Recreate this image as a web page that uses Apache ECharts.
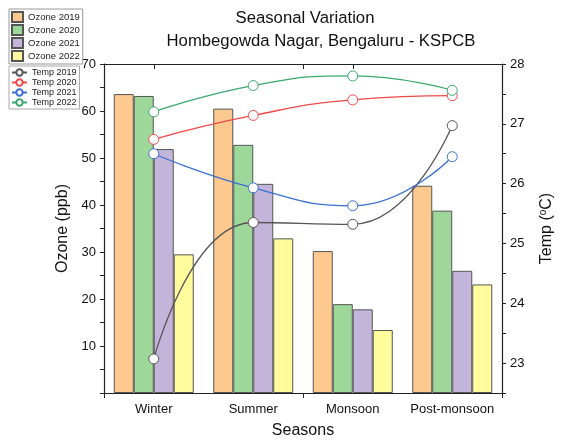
<!DOCTYPE html>
<html><head><meta charset="utf-8">
<script src="https://cdn.jsdelivr.net/npm/echarts@6/dist/echarts.min.js"></script>
<style>html,body{margin:0;padding:0;background:#fff}#c{width:563px;height:444px}</style>
</head><body><div id="c"></div>
<script>
const seasons = ['Winter', 'Summer', 'Monsoon', 'Post-monsoon'];
const ozone2019 = [63.6, 60.5, 30.2, 44.1];
const ozone2020 = [63.2, 52.8, 18.9, 38.8];
const ozone2021 = [51.9, 44.5, 17.8, 26.0];
const ozone2022 = [29.5, 32.9, 13.4, 23.1];
const temp2019 = [23.07, 25.35, 25.32, 26.97];
const temp2020 = [26.74, 27.14, 27.40, 27.47];
const temp2021 = [26.50, 25.93, 25.63, 26.45];
const temp2022 = [27.20, 27.64, 27.80, 27.56];

const font = 'Liberation Sans, Arial, sans-serif';
const barColors = ['#fdc98f', '#9dd79a', '#c3b4d9', '#fffc9e'];
const lineColors = ['#555555', '#ee4a4a', '#3a6fd2', '#3aa86c'];

const chart = echarts.init(document.getElementById('c'));
const bar = (name, data, i) => ({
  name, type: 'bar', data, xAxisIndex: 0, yAxisIndex: 0,
  barWidth: 20, barGap: '0%', z: 2,
  itemStyle: { color: barColors[i], borderColor: '#555', borderWidth: 1 }
});
const line = (name, data, i) => ({
  name, type: 'line', data, xAxisIndex: 0, yAxisIndex: 1, smooth: 0.5, z: 5,
  symbol: 'circle', symbolSize: 10,
  lineStyle: { color: lineColors[i], width: 1.3 },
  itemStyle: { color: '#fff', borderColor: lineColors[i], borderWidth: 1 }
});
const tickCat = (pos, align, inside) => ({
  type: 'category', data: seasons, position: pos,
  axisLine: { show: false }, axisLabel: { show: false },
  axisTick: { show: true, alignWithLabel: align, inside, length: 5, lineStyle: { color: '#222', width: 1 } },
  splitLine: { show: false }
});
const titleStyle = { fontFamily: font, fontSize: 16.7, fontWeight: 'normal', color: '#111' };

chart.setOption({
  animation: false,
  textStyle: { fontFamily: font },
  title: [
    { text: 'Seasonal Variation', left: 305, top: 10, textAlign: 'center', padding: 0, textStyle: titleStyle },
    { text: 'Hombegowda Nagar, Bengaluru - KSPCB', left: 321, top: 33, textAlign: 'center', padding: 0, textStyle: titleStyle }
  ],
  legend: [
    {
      data: ['Ozone 2019', 'Ozone 2020', 'Ozone 2021', 'Ozone 2022'],
      orient: 'vertical', left: 9, top: 9, itemWidth: 11, itemHeight: 10, itemGap: 1,
      icon: 'rect',
      padding: [2, 3, 2, 2], borderColor: '#999', borderWidth: 1, backgroundColor: '#fff',
      textStyle: { fontSize: 9.5, lineHeight: 10, color: '#222' }
    },
    {
      data: ['Temp 2019', 'Temp 2020', 'Temp 2021', 'Temp 2022'],
      orient: 'vertical', left: 9, top: 66, itemWidth: 15, itemHeight: 8, itemGap: 1,
      padding: [2, 3, 2, 2], borderColor: '#aaa', borderWidth: 1, backgroundColor: '#fff',
      textStyle: { fontSize: 9, lineHeight: 9, color: '#222' }
    }
  ],
  grid: { left: 104, right: 59, top: 64, bottom: 51, containLabel: false },
  xAxis: [
    {
      type: 'category', data: seasons, position: 'bottom',
      name: 'Seasons', nameLocation: 'middle', nameGap: 30,
      nameTextStyle: { fontSize: 16, color: '#111' },
      axisLine: { lineStyle: { color: '#222', width: 1.2 } },
      axisTick: { alignWithLabel: true, length: 5, lineStyle: { color: '#222' } },
      axisLabel: { interval: 0, fontSize: 13, color: '#111', margin: 10 },
      splitLine: { show: false }
    },
    tickCat('bottom', false, false),
    Object.assign(tickCat('top', true, true), { axisLine: { show: true, lineStyle: { color: '#222', width: 1.2 } } }),
    tickCat('top', false, true)
  ],
  yAxis: [
    {
      type: 'value', min: 0, max: 70, interval: 5, position: 'left',
      name: 'Ozone (ppb)', nameLocation: 'middle', nameGap: 32,
      nameTextStyle: { fontSize: 16, color: '#111' },
      axisLine: { show: true, lineStyle: { color: '#222', width: 1.2 } },
      axisTick: { show: true, length: 4, lineStyle: { color: '#222' } },
      axisLabel: { fontSize: 13, color: '#111', margin: 8,
        formatter: v => (v % 10 === 0 && v !== 0) ? String(v) : '' },
      splitLine: { show: false }
    },
    {
      type: 'value', min: 22.5, max: 28, interval: 0.5, position: 'right',
      name: 'Temp ({s|o}C)', nameLocation: 'middle', nameGap: 36, nameRotate: 90,
      nameTextStyle: { fontSize: 16, color: '#111', rich: { s: { fontSize: 10, verticalAlign: 'bottom', padding: [0, 0, 8, 0], color: '#111' } } },
      axisLine: { show: true, lineStyle: { color: '#222', width: 1.2 } },
      axisTick: { show: true, length: 4, lineStyle: { color: '#222' } },
      axisLabel: { fontSize: 13, color: '#111', margin: 8,
        formatter: v => Number.isInteger(v) ? String(v) : '' },
      splitLine: { show: false }
    }
  ],
  series: [
    bar('Ozone 2019', ozone2019, 0),
    bar('Ozone 2020', ozone2020, 1),
    bar('Ozone 2021', ozone2021, 2),
    bar('Ozone 2022', ozone2022, 3),
    line('Temp 2019', temp2019, 0),
    line('Temp 2020', temp2020, 1),
    line('Temp 2021', temp2021, 2),
    line('Temp 2022', temp2022, 3)
  ]
});
</script></body></html>
